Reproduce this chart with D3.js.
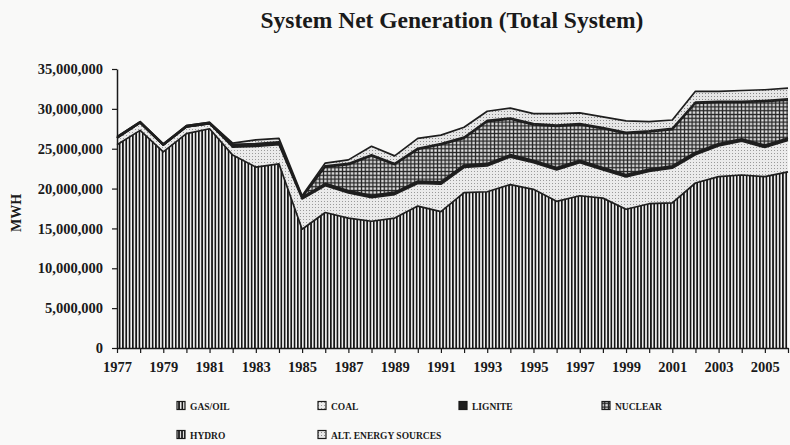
<!DOCTYPE html>
<html>
<head>
<meta charset="utf-8">
<script src="https://cdn.jsdelivr.net/npm/d3@7"></script>
<style>
  html, body { margin: 0; padding: 0; background: #f9f9f8; }
  svg { display: block; }
  text { font-family: "Liberation Serif", "Times New Roman", serif; fill: #1a1a1a; }
</style>
</head>
<body>
<svg id="chart" width="790" height="445"></svg>
<script>
// ---------------- DATA (million MWH) ----------------
const years = [1977,1978,1979,1980,1981,1982,1983,1984,1985,1986,1987,1988,1989,1990,1991,
               1992,1993,1994,1995,1996,1997,1998,1999,2000,2001,2002,2003,2004,2005,2006];
const gasOil  = [25.5,27.3,24.6,26.9,27.5,24.2,22.7,23.1,14.9,17.0,16.3,15.9,16.3,17.8,17.1,
                 19.5,19.6,20.5,19.9,18.4,19.1,18.8,17.4,18.1,18.2,20.7,21.5,21.7,21.5,22.1];
const coal    = [0.85,0.95,0.85,0.85,0.65,1.0,2.6,2.4,3.8,3.35,3.15,2.95,2.95,2.85,3.45,
                 3.15,3.25,3.45,3.35,3.95,4.15,3.55,4.05,4.05,4.35,3.55,3.85,4.25,3.65,3.95];
const lignite = [0,0,0,0,0,0.2,0.2,0.2,0.2,0.3,0.3,0.3,0.3,0.3,0.3,
                 0.3,0.3,0.3,0.3,0.3,0.3,0.3,0.3,0.3,0.3,0.3,0.3,0.3,0.3,0.3];
const nuclear = [0,0,0,0,0,0,0,0,0,2.05,3.25,4.95,3.45,3.95,4.65,
                 3.35,5.25,4.45,4.45,5.15,4.45,4.85,5.15,4.65,4.55,6.15,5.15,4.55,5.45,4.75];
const hydro   = [0.15,0.15,0.15,0.15,0.15,0.15,0.15,0.15,0.1,0.15,0.15,0.15,0.15,0.15,0.15,
                 0.15,0.15,0.15,0.15,0.15,0.15,0.15,0.15,0.15,0.15,0.15,0.15,0.15,0.15,0.15];
const altEnergy = [0,0,0,0,0,0.15,0.45,0.45,0.1,0.35,0.45,1.05,0.95,1.25,1.05,
                 1.25,1.15,1.25,1.25,1.45,1.35,1.35,1.45,1.15,1.05,1.35,1.25,1.35,1.35,1.35];
const seriesKeys   = ["gas","coal","lignite","nuclear","hydro","alt"];
const seriesLabels = ["GAS/OIL","COAL","LIGNITE","NUCLEAR","HYDRO","ALT. ENERGY SOURCES"];
const yTicks = [0,5000000,10000000,15000000,20000000,25000000,30000000,35000000];
const xTickLabels = [1977,1979,1981,1983,1985,1987,1989,1991,1993,1995,1997,1999,2001,2003,2005];
const titleText = "System Net Generation (Total System)";
const yTitle = "MWH";

// ---------------- build table ----------------
const M = 1e6;
const table = years.map((yr,i) => ({
  year: yr, gas: gasOil[i]*M, coal: coal[i]*M, lignite: lignite[i]*M,
  nuclear: nuclear[i]*M, hydro: hydro[i]*M, alt: altEnergy[i]*M
}));

const svg = d3.select("#chart");
const pLeft = 117, pRight = 788, pTop = 69, pBottom = 348;

const x = d3.scaleLinear().domain([1977, 2006]).range([pLeft, pRight]);
const y = d3.scaleLinear().domain([0, 35000000]).range([pBottom, pTop]);

// ---------------- patterns ----------------
const defs = svg.append("defs");
function pat(id, w, h, draw) {
  const p = defs.append("pattern").attr("id", id).attr("patternUnits","userSpaceOnUse")
    .attr("width", w).attr("height", h);
  draw(p);
}
pat("p-gas", 3.3, 10, p => {
  p.append("rect").attr("width",3.3).attr("height",10).attr("fill","#f4f4f4");
  p.append("rect").attr("width",1.7).attr("height",10).attr("fill","#151515");
});
pat("p-coal", 3, 3, p => {
  p.append("rect").attr("width",3).attr("height",3).attr("fill","#ebebeb");
  p.append("rect").attr("width",1).attr("height",1).attr("fill","#9a9a9a");
});
pat("p-alt", 3, 3, p => {
  p.append("rect").attr("width",3).attr("height",3).attr("fill","#e6e6e6");
  p.append("rect").attr("width",1).attr("height",1).attr("fill","#888888");
});
pat("p-nuc", 3.8, 3.8, p => {
  p.append("rect").attr("width",3.8).attr("height",3.8).attr("fill","#262626");
  p.append("rect").attr("x",1.2).attr("y",1.2).attr("width",2.4).attr("height",2.4).attr("fill","#eeeeee");
});
pat("p-hydro", 3, 10, p => {
  p.append("rect").attr("width",3).attr("height",10).attr("fill","#303030");
  p.append("rect").attr("width",1).attr("height",10).attr("fill","#dddddd");
});
const fills = {gas:"url(#p-gas)", coal:"url(#p-coal)", lignite:"#1e1e1e",
               nuclear:"url(#p-nuc)", hydro:"url(#p-hydro)", alt:"url(#p-alt)"};

// ---------------- stacked areas ----------------
const stack = d3.stack().keys(seriesKeys);
const layers = stack(table);
const area = d3.area().x(d => x(d.data.year)).y0(d => y(d[0])).y1(d => y(d[1]));
const topLine = d3.line().x(d => x(d.data.year)).y(d => y(d[1]));

svg.append("g").selectAll("path").data(layers).join("path")
  .attr("d", area).attr("fill", d => fills[d.key]).attr("stroke","none");
svg.append("g").selectAll("path").data(layers).join("path")
  .attr("d", topLine).attr("fill","none").attr("stroke","#1e1e1e")
  .attr("stroke-width", 1.7).attr("stroke-linejoin","round");

// ---------------- axes ----------------
const yAxis = d3.axisLeft(y).tickValues(yTicks).tickSize(5).tickSizeOuter(0)
  .tickFormat(d3.format(","));
const gy = svg.append("g").attr("transform", `translate(${pLeft},0)`).call(yAxis);
gy.select(".domain").attr("stroke","#1a1a1a").attr("stroke-width",1.5);
gy.selectAll(".tick line").attr("stroke","#1a1a1a").attr("stroke-width",1.2);
gy.selectAll(".tick text").attr("x",-14).style("font-family","'Liberation Serif', serif")
  .style("font-size","14.5px").style("font-weight","bold").attr("fill","#1a1a1a");

const xAxis = d3.axisBottom(x).tickValues(years).tickSize(5).tickSizeOuter(0)
  .tickFormat(d => xTickLabels.includes(d) ? String(d) : "");
const gx = svg.append("g").attr("transform", `translate(0,${pBottom})`).call(xAxis);
gx.select(".domain").attr("stroke","#1a1a1a").attr("stroke-width",1.5);
gx.selectAll(".tick line").attr("stroke","#1a1a1a").attr("stroke-width",1.2);
gx.selectAll(".tick text").attr("y",14).style("font-family","'Liberation Serif', serif")
  .style("font-size","14.5px").style("font-weight","bold").attr("fill","#1a1a1a");

// ---------------- titles ----------------
svg.append("text").attr("x", 452).attr("y", 28).attr("text-anchor","middle")
  .style("font-size","23.5px").style("font-weight","bold").text(titleText);
svg.append("text").attr("transform","translate(21,213) rotate(-90)").attr("text-anchor","middle")
  .style("font-size","14px").style("font-weight","bold").text(yTitle);

// ---------------- legend ----------------
const legendPos = [[177,406],[318,406],[459,406],[602,406],[177,435],[318,435]];
const lg = svg.append("g");
seriesKeys.forEach((k,i) => {
  const [lx, ly] = legendPos[i];
  lg.append("rect").attr("x", lx).attr("y", ly-4.5).attr("width",8).attr("height",8)
    .attr("fill", fills[k]).attr("stroke","#1a1a1a").attr("stroke-width",1.2);
  lg.append("text").attr("x", lx+13).attr("y", ly+3.5)
    .style("font-size","9.5px").style("font-weight","bold").text(seriesLabels[i]);
});
</script>
</body>
</html>
